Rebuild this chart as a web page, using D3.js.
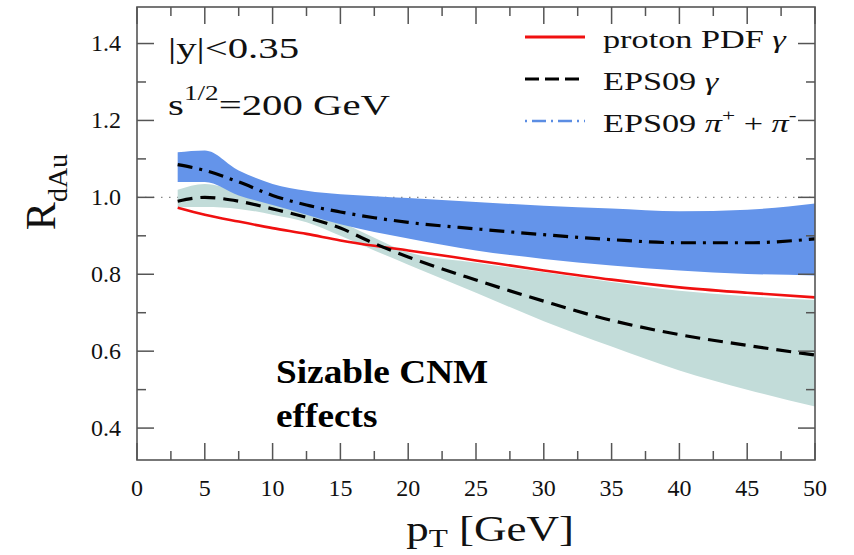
<!DOCTYPE html>
<html><head><meta charset="utf-8">
<script src="https://cdn.jsdelivr.net/npm/d3@7"></script>
<style>
html,body{margin:0;padding:0;background:#fff;}
svg{display:block;font-family:"Liberation Serif","Times New Roman",serif;}
</style></head>
<body><svg id="c" width="854" height="555"></svg>
<script>
// ---- data ----
const pt = [3, 5, 7.5, 10, 12.5, 15, 17.5, 20, 25, 30, 35, 40, 45, 50];
const protonPDF = [0.973, 0.955, 0.937, 0.92, 0.905, 0.888, 0.874, 0.862, 0.836, 0.81, 0.786, 0.766, 0.752, 0.74];
const eps09Gamma = [0.99, 1.0, 0.99, 0.97, 0.948, 0.92, 0.88, 0.845, 0.785, 0.73, 0.68, 0.643, 0.615, 0.59];
const eps09GammaLow = [0.974, 0.975, 0.97, 0.955, 0.935, 0.9, 0.862, 0.825, 0.752, 0.678, 0.612, 0.55, 0.5, 0.456];
const eps09GammaHigh = [1.02, 1.035, 1.015, 0.99, 0.965, 0.935, 0.895, 0.857, 0.83, 0.805, 0.78, 0.757, 0.743, 0.733];
const eps09Pi = [1.085, 1.07, 1.04, 1.005, 0.98, 0.962, 0.947, 0.935, 0.918, 0.903, 0.89, 0.882, 0.882, 0.892];
const eps09PiLow = [1.04, 1.04, 1.005, 0.98, 0.955, 0.93, 0.91, 0.893, 0.862, 0.84, 0.823, 0.81, 0.801, 0.797];
const eps09PiHigh = [1.117, 1.122, 1.07, 1.035, 1.017, 1.008, 1.003, 0.998, 0.988, 0.978, 0.971, 0.964, 0.968, 0.984];
const xTicks = [0, 5, 10, 15, 20, 25, 30, 35, 40, 45, 50];
const yTicks = [0.4, 0.6, 0.8, 1.0, 1.2, 1.4];
const legendLabels = ["proton PDF", "EPS09", "EPS09"];

// ---- layout ----
const L = 137, R = 815, T = 7, B = 460;
const x = d3.scaleLinear().domain([0, 50]).range([L, R]);
const y = d3.scaleLinear().domain([0.317, 1.495]).range([B, T]);
const svg = d3.select("#c");
const axisCol = "#555";

const clip = svg.append("clipPath").attr("id", "pc");
clip.append("rect").attr("x", L).attr("y", T).attr("width", R - L).attr("height", B - T);
const plot = svg.append("g").attr("clip-path", "url(#pc)");

const curve = d3.curveMonotoneX;
const band = (lo, hi) => d3.area().x((d, i) => x(pt[i])).y0((d, i) => y(lo[i])).y1((d, i) => y(hi[i])).curve(curve)(pt);
const line = arr => d3.line().x((d, i) => x(pt[i])).y((d, i) => y(arr[i])).curve(curve)(pt);

// dotted line at 1
plot.append("line").attr("x1", L).attr("x2", R).attr("y1", y(1)).attr("y2", y(1))
  .attr("stroke", "#888").attr("stroke-width", 1.3).attr("stroke-dasharray", "1.5,6.5");

plot.append("path").attr("d", band(eps09GammaLow, eps09GammaHigh)).attr("fill", "#c2dcd9");
plot.append("path").attr("d", band(eps09PiLow, eps09PiHigh)).attr("fill", "#6494ea");

plot.append("path").attr("d", line(protonPDF)).attr("fill", "none").attr("stroke", "#f01010").attr("stroke-width", 2.6);
plot.append("path").attr("d", line(eps09Gamma)).attr("fill", "none").attr("stroke", "#000").attr("stroke-width", 3.2)
  .attr("stroke-dasharray", "15,8");
plot.append("path").attr("d", line(eps09Pi)).attr("fill", "none").attr("stroke", "#000").attr("stroke-width", 3.2)
  .attr("stroke-dasharray", "15,7,3,7");

// ---- frame & ticks ----
svg.append("rect").attr("x", L).attr("y", T).attr("width", R - L).attr("height", B - T)
  .attr("fill", "none").attr("stroke", axisCol).attr("stroke-width", 1.6);

const tk = svg.append("g").attr("stroke", axisCol).attr("stroke-width", 1.5);
const xMinor = d3.range(2.5, 50, 5);
xTicks.forEach(v => {
  tk.append("line").attr("x1", x(v)).attr("x2", x(v)).attr("y1", B).attr("y2", B - 17);
  tk.append("line").attr("x1", x(v)).attr("x2", x(v)).attr("y1", T).attr("y2", T + 17);
});
xMinor.forEach(v => {
  tk.append("line").attr("x1", x(v)).attr("x2", x(v)).attr("y1", B).attr("y2", B - 9);
  tk.append("line").attr("x1", x(v)).attr("x2", x(v)).attr("y1", T).attr("y2", T + 9);
});
const yMinor = [0.5, 0.7, 0.9, 1.1, 1.3];
yTicks.forEach(v => {
  tk.append("line").attr("x1", L).attr("x2", L + 17).attr("y1", y(v)).attr("y2", y(v));
  tk.append("line").attr("x1", R).attr("x2", R - 17).attr("y1", y(v)).attr("y2", y(v));
});
yMinor.forEach(v => {
  tk.append("line").attr("x1", L).attr("x2", L + 9).attr("y1", y(v)).attr("y2", y(v));
  tk.append("line").attr("x1", R).attr("x2", R - 9).attr("y1", y(v)).attr("y2", y(v));
});

// tick labels
svg.append("g").selectAll("text").data(xTicks).join("text")
  .attr("x", d => x(d)).attr("y", 496).attr("text-anchor", "middle")
  .attr("font-size", 24).attr("fill", "#111").text(d => d);
svg.append("g").selectAll("text").data(yTicks).join("text")
  .attr("x", 121).attr("y", d => y(d)).attr("dy", "0.33em").attr("text-anchor", "end")
  .attr("font-size", 24).attr("fill", "#111").text(d => d.toFixed(1));

// axis titles
const xt = svg.append("g").attr("transform", "translate(490,541) scale(1.25,1)")
  .append("text").attr("text-anchor", "middle").attr("font-size", 36).attr("fill", "#111");
xt.append("tspan").text("p");
xt.append("tspan").attr("font-size", 25).attr("dy", 6).text("T");
xt.append("tspan").attr("dy", -6).text(" [GeV]");

const yt = svg.append("g").attr("transform", "translate(55,192) rotate(-90)")
  .append("text").attr("text-anchor", "middle").attr("font-size", 42).attr("fill", "#111");
yt.append("tspan").text("R");
yt.append("tspan").attr("font-size", 28).attr("dy", 12).text("dAu");

// annotations
svg.append("g").attr("transform", "translate(168,58) scale(1.36,1)")
  .append("text").attr("font-size", 30).attr("fill", "#111").text("|y|<0.35");
const a2 = svg.append("g").attr("transform", "translate(168,115) scale(1.36,1)")
  .append("text").attr("font-size", 30).attr("fill", "#111");
a2.append("tspan").text("s");
a2.append("tspan").attr("font-size", 20).attr("dy", -15).text("1/2");
a2.append("tspan").attr("dy", 15).text("=200 GeV");

svg.append("g").attr("transform", "translate(276,383) scale(1.13,1)")
  .append("text").attr("font-size", 33).attr("font-weight", "bold").attr("fill", "#000").text("Sizable CNM");
svg.append("g").attr("transform", "translate(276,427) scale(1.13,1)")
  .append("text").attr("font-size", 33).attr("font-weight", "bold").attr("fill", "#000").text("effects");

// legend
const lg = svg.append("g");
const rows = [37, 79, 121];
lg.append("line").attr("x1", 525).attr("x2", 585).attr("y1", rows[0]).attr("y2", rows[0])
  .attr("stroke", "#f01010").attr("stroke-width", 3);
lg.append("line").attr("x1", 525).attr("x2", 585).attr("y1", rows[1]).attr("y2", rows[1])
  .attr("stroke", "#000").attr("stroke-width", 3).attr("stroke-dasharray", "14,6");
lg.append("line").attr("x1", 525).attr("x2", 585).attr("y1", rows[2]).attr("y2", rows[2])
  .attr("stroke", "#5b8de3").attr("stroke-width", 2.5).attr("stroke-dasharray", "2,5,14,5");

function legText(i, build) {
  const t = svg.append("g").attr("transform", `translate(603,${rows[i] + 11}) scale(1.37,1)`)
    .append("text").attr("font-size", 25).attr("fill", "#111");
  build(t);
}
legText(0, t => { t.append("tspan").text(legendLabels[0] + " "); t.append("tspan").attr("font-style", "italic").text("γ"); });
legText(1, t => { t.append("tspan").text(legendLabels[1] + " "); t.append("tspan").attr("font-style", "italic").text("γ"); });
legText(2, t => {
  t.append("tspan").text(legendLabels[2] + " ");
  t.append("tspan").attr("font-style", "italic").text("π");
  t.append("tspan").attr("font-size", 17).attr("dy", -11).text("+");
  t.append("tspan").attr("dy", 11).text(" + ");
  t.append("tspan").attr("font-style", "italic").text("π");
  t.append("tspan").attr("font-size", 17).attr("dy", -11).text("-");
});
</script></body></html>
